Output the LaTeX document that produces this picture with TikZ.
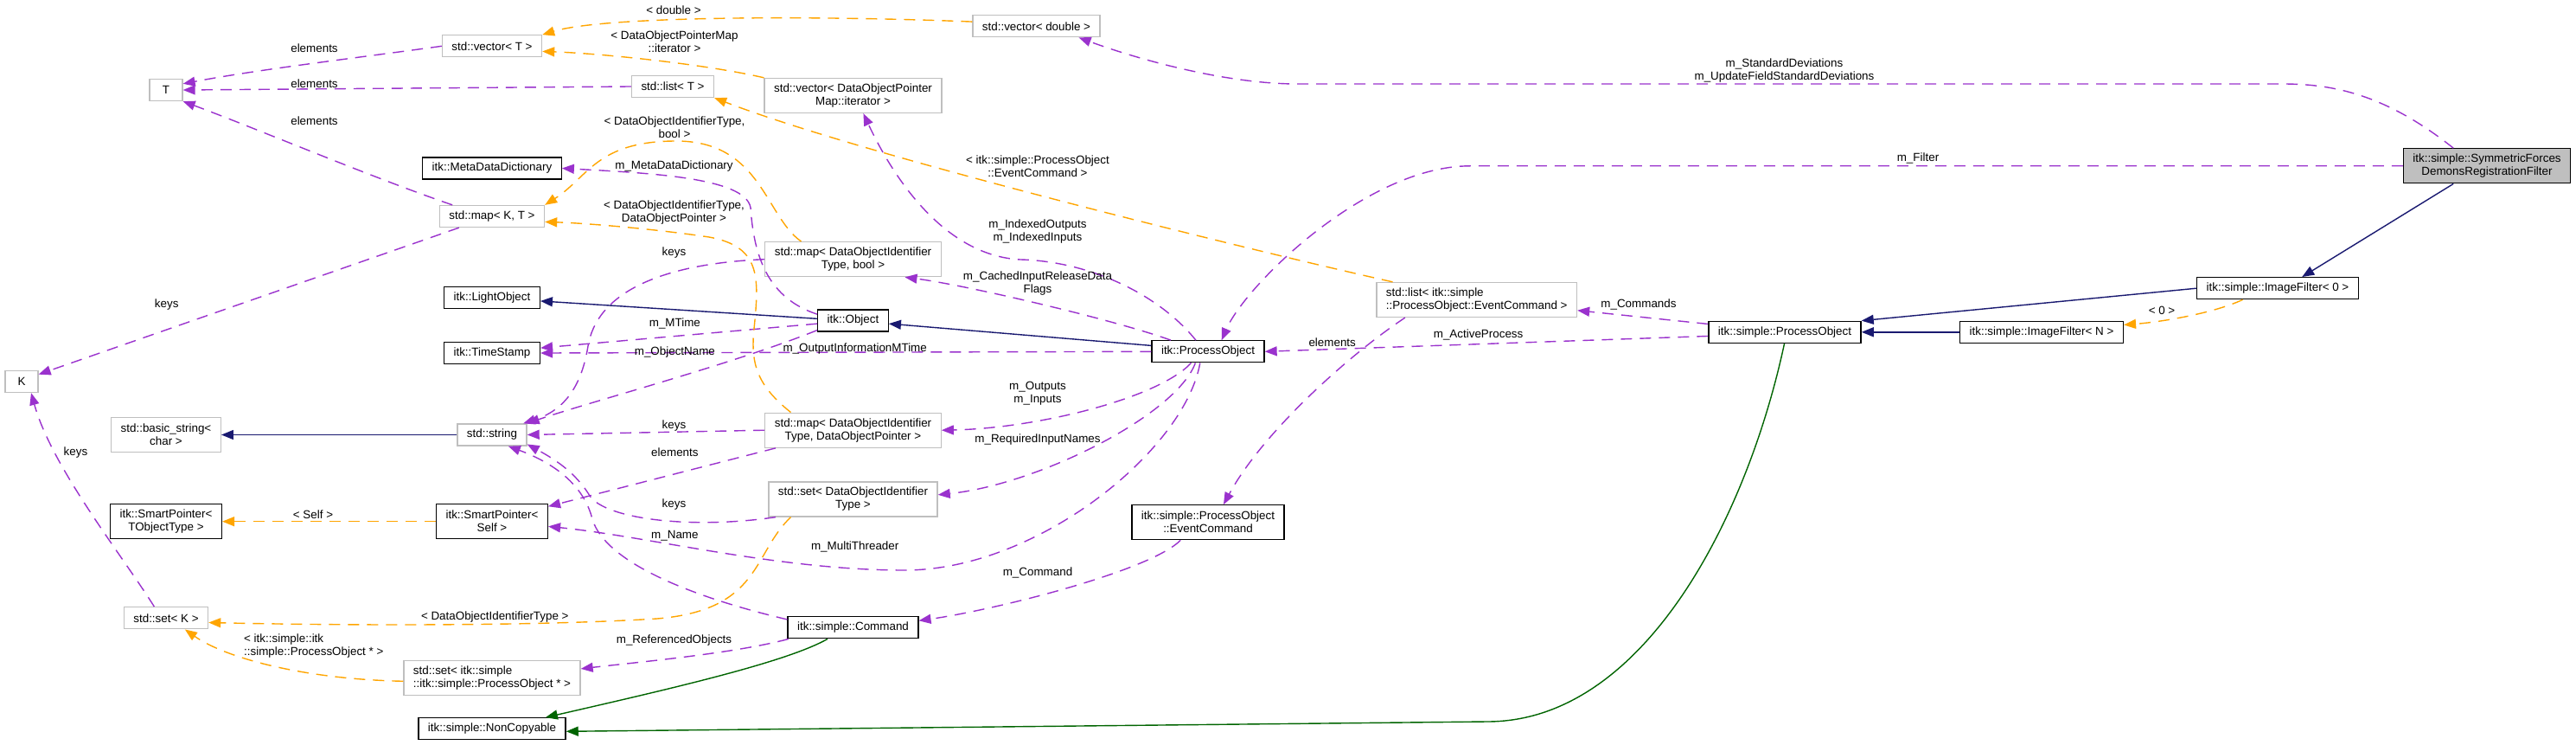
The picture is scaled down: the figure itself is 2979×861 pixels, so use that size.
\documentclass[tikz,border=0pt]{standalone}
\usepackage{fontspec}
\setmainfont{Liberation Sans}
\usetikzlibrary{positioning,arrows.meta}
\definecolor{usecol}{HTML}{9A32CD}
\definecolor{tplcol}{HTML}{FFA500}
\definecolor{inhcol}{HTML}{191970}
\definecolor{prvcol}{HTML}{006400}
\definecolor{boxgrey}{HTML}{BFBFBF}
\tikzset{
  cls/.style={draw=black, fill=white, line width=1.3pt, inner xsep=11pt, inner ysep=2pt, minimum height=25pt, minimum width=38pt},
  ext/.style={cls, draw=boxgrey},
  two/.style={minimum height=40pt, align=center},
  lft/.style={minimum height=40pt, align=left},
  cur/.style={cls, two, fill=boxgrey},
  conn/.style={line width=1.4pt, -{Triangle[length=14pt,width=11pt]}},
  usage/.style={conn, draw=usecol, dash pattern=on 13pt off 9pt},
  tmpl/.style={conn, draw=tplcol, dash pattern=on 13pt off 9pt},
  inh/.style={conn, draw=inhcol},
  prv/.style={conn, draw=prvcol},
  lbl/.style={inner sep=0pt, align=center}
}
\begin{document}
\begin{tikzpicture}[x=1pt, y=-1pt, on grid, font=\fontsize{13.4}{15}\selectfont]
\useasboundingbox (0,0) rectangle (2979,861);
\node[ext] (T) at (192,104) {T};
\node[ext] (K) at (25,441) {K};
\node[ext] (vect) at (569,53.3) {std::vector< T >};
\node[cls, below=141.2pt of vect] (mdd) {itk::MetaDataDictionary};
\node[ext, below=55.5pt of mdd] (mapkt) {std::map< K, T >};
\node[cls, below=94pt of mapkt] (light) {itk::LightObject};
\node[cls, below=64pt of light] (stamp) {itk::TimeStamp};
\node[ext, below=94.5pt of stamp] (str) {std::string};
\node[cls, two, below=100.2pt of str] (spself) {itk::SmartPointer<\\Self >};
\node[ext, lft, below=181pt of spself] (setpo) {std::set< itk::simple\\::itk::simple::ProcessObject * >};
\node[cls, below=58.6pt of setpo] (noncopy) {itk::simple::NonCopyable};
\node[ext, two, left=377pt of str] (basic) {std::basic\_string<\\char >};
\node[cls, two, left=377pt of spself] (sptobj) {itk::SmartPointer<\\TObjectType >};
\node[ext, below=111.6pt of sptobj] (setk) {std::set< K >};
\node[ext] (listt) at (778,100) {std::list< T >};
\node[ext] (vecd) at (1198.5,30.3) {std::vector< double >};
\node[ext, two] (vecit) at (986.5,110.5) {std::vector< DataObjectPointer\\Map::iterator >};
\node[ext, two, below=189.2pt of vecit] (mapbool) {std::map< DataObjectIdentifier\\Type, bool >};
\node[cls, below=70.8pt of mapbool] (obj) {itk::Object};
\node[ext, two, below=126.7pt of obj] (mapdop) {std::map< DataObjectIdentifier\\Type, DataObjectPointer >};
\node[ext, two, below=79.8pt of mapdop] (setid) {std::set< DataObjectIdentifier\\Type >};
\node[cls, below=148.3pt of setid] (cmd) {itk::simple::Command};
\node[cls] (po) at (1397,406.3) {itk::ProcessObject};
\node[cls, two, below=197.4pt of po] (evcmd) {itk::simple::ProcessObject\\::EventCommand};
\node[ext, lft] (listev) at (1707.7,346.5) {std::list< itk::simple\\::ProcessObject::EventCommand >};
\node[cls] (spo) at (2064,383.8) {itk::simple::ProcessObject};
\node[cls, right=297pt of spo] (ifn) {itk::simple::ImageFilter< N >};
\node[cls] (if0) at (2634,333.2) {itk::simple::ImageFilter< 0 >};
\node[cur] (sym) at (2876,191.8) {itk::simple::SymmetricForces\\DemonsRegistrationFilter};

\draw[usage] (vect.west) .. controls (420,66) and (300,80) .. (T.20);
\draw[usage] (listt.west) -- (T.east);
\draw[usage] (mapkt.164) .. controls (430,205) and (300,150) .. (T.south east);
\draw[usage] (mapkt.199) -- (K.23);
\draw[usage] (setk.136) .. controls (140,640) and (60,540) .. (K.310);
\draw[usage] (sym.152) .. controls (2760,110) and (2700,97) .. (2640,97) -- (1500,97) .. controls (1420,97) and (1320,70) .. (vecd.345);
\draw[usage] (sym.west) -- (1700,191.8) .. controls (1580,191.8) and (1440,330) .. (po.40);
\draw[usage] (spo.174) -- (listev.354);
\draw[usage] (spo.183) -- (po.east);
\draw[usage] (listev.194) .. controls (1560,410) and (1460,500) .. (evcmd.49);
\draw[usage] (evcmd.213) .. controls (1330,660) and (1150,705) .. (cmd.6);
\draw[usage] (po.137) .. controls (1340,340) and (1260,302) .. (1180,300) .. controls (1100,296) and (1040,220) .. (vecit.300);
\draw[usage] (po.163) .. controls (1290,370) and (1120,330) .. (mapbool.341);
\draw[usage] (po.214) .. controls (1340,460) and (1200,495) .. (mapdop.east);
\draw[usage] (po.222) .. controls (1360,480) and (1200,560) .. (setid.3);
\draw[usage] (po.235) .. controls (1370,520) and (1200,659) .. (1046,659) .. controls (900,659) and (750,620) .. (spself.355);
\draw[usage] (po.west) -- (stamp.east);
\draw[usage] (obj.185) -- (stamp.6);
\draw[usage] (obj.195) .. controls (850,420) and (680,465) .. (str.north east);
\draw[usage] (obj.170) .. controls (890,345) and (872,300) .. (868,240) .. controls (862,205) and (750,200) .. (mdd.east);
\draw[usage] (mapbool.west) .. controls (760,305) and (690,340) .. (680,400) .. controls (672,450) and (650,475) .. (str.20);
\draw[usage] (mapdop.west) -- (str.east);
\draw[usage] (mapdop.193) -- (spself.15);
\draw[usage] (setid.193) .. controls (800,612) and (700,600) .. (682,573) .. controls (665,545) and (640,530) .. (str.345);
\draw[usage] (cmd.173) .. controls (800,690) and (700,650) .. (685,600) .. controls (675,560) and (640,535) .. (str.325);
\draw[usage] (cmd.190) .. controls (850,755) and (740,765) .. (setpo.6);

\draw[tmpl] (vecd.176) .. controls (950,18) and (700,18) .. (vect.north east);
\draw[tmpl] (vecit.north west) .. controls (820,75) and (700,62) .. (vect.354);
\draw[tmpl] (listev.168) .. controls (1450,290) and (1000,180) .. (listt.south east);
\draw[tmpl] (mapbool.161) .. controls (885,250) and (880,163) .. (782,163) .. controls (690,163) and (680,205) .. (mapkt.north east);
\draw[tmpl] (mapdop.164) .. controls (875,445) and (868,420) .. (872,380) .. controls (878,320) and (880,285) .. (820,274) .. controls (760,265) and (680,258) .. (mapkt.354);
\draw[tmpl] (setid.196) .. controls (870,640) and (880,705) .. (760,715) .. controls (600,725) and (350,722) .. (setk.354);
\draw[tmpl] (setpo.182) .. controls (350,785) and (260,760) .. (setk.329);
\draw[tmpl] (spself.west) -- (sptobj.east);
\draw[tmpl] (if0.198) .. controls (2560,362) and (2500,372) .. (ifn.5);

\draw[inh] (sym.208) -- (if0.25);
\draw[inh] (if0.west) -- (spo.north east);
\draw[inh] (ifn.west) -- (spo.east);
\draw[inh] (po.174) -- (obj.355);
\draw[inh] (obj.177) -- (light.356);
\draw[inh] (str.west) -- (basic.east);
\draw[prv] (cmd.204) .. controls (910,765) and (780,795) .. (noncopy.12);
\draw[prv] (spo.268) .. controls (2020,600) and (1900,834) .. (1720,834) -- (noncopy.358);

\node[lbl] (lvect) at (363.5,55.7) {elements};
\node[lbl] (llistt) at (363.5,97) {elements};
\node[lbl] (lmapkt) at (363.5,140) {elements};
\node[lbl] (lkeysmap) at (192.7,352.3) {keys};
\node[lbl] (lkeysset) at (87.5,523.3) {keys};
\node[lbl] (lstd) at (2063.5,81.5) {m\_StandardDeviations\\m\_UpdateFieldStandardDeviations};
\node[lbl] (lfilt) at (2218,183.3) {m\_Filter};
\node[lbl] (lcmds) at (1895,352.3) {m\_Commands};
\node[lbl] (lact) at (1709.6,386.7) {m\_ActiveProcess};
\node[lbl] (lelev) at (1540.7,395.7) {elements};
\node[lbl] (lcmd) at (1200,662.3) {m\_Command};
\node[lbl] (lidx) at (1200,267.7) {m\_IndexedOutputs\\m\_IndexedInputs};
\node[lbl] (lcache) at (1200,327.8) {m\_CachedInputReleaseData\\Flags};
\node[lbl] (lio) at (1200,455) {m\_Outputs\\m\_Inputs};
\node[lbl] (lreq) at (1200,508.3) {m\_RequiredInputNames};
\node[lbl] (lmt) at (988.7,631.7) {m\_MultiThreader};
\node[lbl] (loimt) at (988.7,402.7) {m\_OutputInformationMTime};
\node[lbl] (lmtime) at (780.4,374.3) {m\_MTime};
\node[lbl] (lname) at (780.4,406.7) {m\_ObjectName};
\node[lbl] (lmdd) at (779.5,191.7) {m\_MetaDataDictionary};
\node[lbl] (lkbool) at (779.5,291.7) {keys};
\node[lbl] (lkdop) at (779.5,492.3) {keys};
\node[lbl] (lelem) at (780.4,522.3) {elements};
\node[lbl] (lkid) at (779.5,583.3) {keys};
\node[lbl] (lmname) at (780.4,619.3) {m\_Name};
\node[lbl] (lref) at (779.5,740.3) {m\_ReferencedObjects};
\node[lbl] (ldbl) at (779,11.7) {< double >};
\node[lbl] (lit) at (780,48.2) {< DataObjectPointerMap\\::iterator >};
\node[lbl] (lev) at (1200,191.8) {< itk::simple::ProcessObject\\::EventCommand >};
\node[lbl] (lbool) at (780,147) {< DataObjectIdentifierType,\\bool >};
\node[lbl] (ldop) at (779.5,245.5) {< DataObjectIdentifierType,\\DataObjectPointer >};
\node[lbl] (lid) at (572.3,712.7) {< DataObjectIdentifierType >};
\node[lbl, align=left, anchor=west] (lpo) at (282,747) {< itk::simple::itk\\::simple::ProcessObject * >};
\node[lbl] (lself) at (362,595) {< Self >};
\node[lbl] (lzero) at (2500,359) {< 0 >};
\end{tikzpicture}
\end{document}
